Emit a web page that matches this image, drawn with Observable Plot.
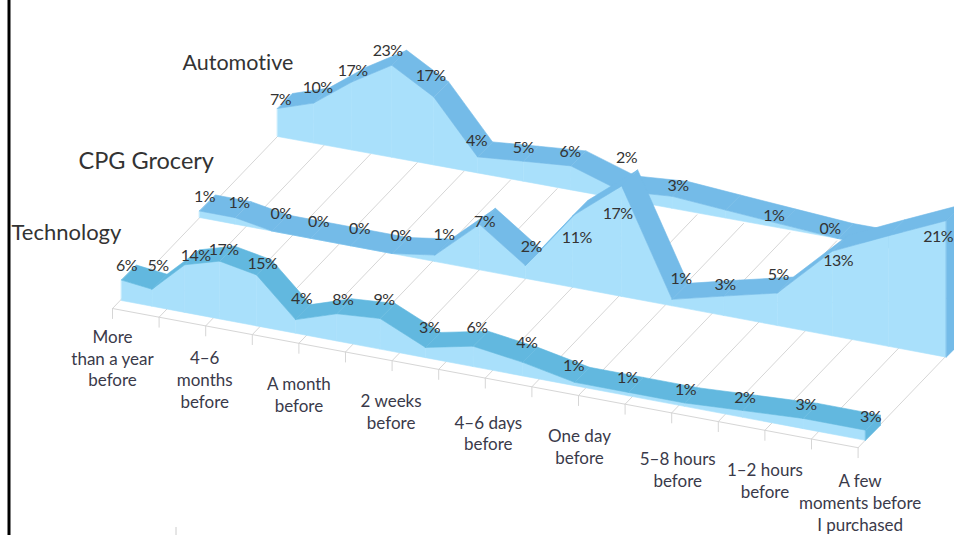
<!DOCTYPE html>
<html>
<head>
<meta charset="utf-8">
<script src="https://cdn.jsdelivr.net/npm/d3@7"></script>
<script src="https://cdn.jsdelivr.net/npm/@observablehq/plot@0.6"></script>
<style>
  html, body { margin: 0; padding: 0; background: #fff; }
  svg { display: block; }
  svg text { font-variant-ligatures: none; }
  svg .pct text { letter-spacing: -0.5px; }
</style>
</head>
<body>
<div id="chart"></div>
<script>
// Share of purchasers by how long before buying they started researching.
const categories = ["More\nthan a year\nbefore", "4–6\nmonths\nbefore", "A month\nbefore", "2 weeks\nbefore",
  "4–6 days\nbefore", "One day\nbefore", "5–8 hours\nbefore", "1–2 hours\nbefore", "A few\nmoments before\nI purchased"];
const automotive = [7, 10, 17, 23, 17, 4, 5, 6, 2, 3, 2, 1, 0, 0];
const grocery = [1, 1, 0, 0, 0, 0, 1, 7, 2, 11, 17, 1, 3, 5, 13, 17, 21];
const technology = [6, 5, 14, 17, 15, 4, 8, 9, 3, 6, 4, 1, 1, 1, 2, 3, 3];

// Hand placement of the percentage labels, relative to each ribbon's front edge.
const automotiveNudge = [[-1, 6], [0, 0], [-3, 4], [-8, 1], [-7, -6], [-5, -1], [-4, 2], [-5, 1], [2, -18], [2, 5], [0, 0], [-11, 7], [-12, 5], [0, 0]];
const groceryNudge = [[1, 1], [0, 0], [5, -2], [4, -1], [5, -2], [5, -3], [5, -5], [1, 13], [2, -4], [7, -1], [-1, 5], [5, -5], [-3, 4], [-3, -3], [9, -13], [0, 0], [-5, -7]];
const technologyNudge = [[1, 1], [2, -8], [7, 6], [0, 4], [2, 4], [2, -6], [2, 1], [0, -4], [0, -5], [0, -3], [0, -4], [-5, -1], [-5, 0], [-3, 2], [-2, 2], [-1, 1], [1, 2]];

// Oblique projection settings: each ribbon sits on its own row of the floor.
const rows = [
  {name: "Automotive", values: automotive, nudge: automotiveNudge, x0: 277, y0: 136, a: 35.2, b: 0.96, slope: 0.182, k: 4.0, dx: 15, dy: -15,
   band: "#74bbe8", hidden: [10, 13], below: [], title: [182, 63], titleSize: 21.5},
  {name: "CPG Grocery", values: grocery, nudge: groceryNudge, x0: 199, y0: 217, a: 34.8, b: 0.742, slope: 0.187, k: 6.5, dx: 16, dy: -16,
   band: "#74bbe8", hidden: [15], below: [9, 10, 14, 16], title: [78, 161], titleSize: 23.5},
  {name: "Technology", values: technology, nudge: technologyNudge, x0: 121, y0: 300, a: 29.5, b: 1.0625, slope: 0.188, k: 3.4, dx: 15, dy: -15,
   band: "#62b8df", hidden: [], below: [], title: [11, 232], titleSize: 22}
];
const faceColor = "#a9e0fb";

// Floor grid: one depth line per time slot, front row ticks every slot.
const slots = d3.range(17);
const floorFront = i => [112 + 46.6 * i, 308 + 8.7 * i];
const floorBack = i => [277 + 46.6 * i, 136 + 8.7 * i];
const gridRows = slots.flatMap(i => [
  {x: floorFront(i)[0], y: floorFront(i)[1], z: i},
  {x: floorBack(i)[0], y: floorBack(i)[1], z: i}
]);
const frontRows = slots.map(i => ({x: floorFront(i)[0], y: floorFront(i)[1]}));
const tickRows = slots.flatMap(i => [
  {x: floorFront(i)[0], y: floorFront(i)[1], z: i},
  {x: floorFront(i)[0], y: floorFront(i)[1] + 10, z: i}
]);

// Distance below the tick and sideways shift of each category label.
const categoryDrop = [19, 23, 31, 31, 35, 31, 37, 30, 24];
const categoryShift = [0, -1, 0, -1, 3, 1, 6, 0, 2];
const categoryRows = categories.map((label, j) => ({
  label,
  x: floorFront(j * 2)[0] + categoryShift[j],
  y: floorFront(j * 2)[1] + categoryDrop[j],
}));

function project(row, i, v) {
  const x = row.x0 + row.a * i + row.b * i * i;
  const base = row.y0 + row.slope * (x - row.x0);
  return {x, base, top: base - v * row.k};
}

function ribbonMarks(row) {
  const pts = row.values.map((v, i) => project(row, i, v));
  const face = [];
  const band = [];
  pts.slice(1).forEach((p, n) => {
    const q = pts[n];
    face.push({x: q.x, y: q.top, z: n}, {x: p.x, y: p.top, z: n}, {x: p.x, y: p.base, z: n}, {x: q.x, y: q.base, z: n});
    band.push({x: q.x, y: q.top, z: n}, {x: p.x, y: p.top, z: n},
              {x: p.x + row.dx, y: p.top + row.dy, z: n}, {x: q.x + row.dx, y: q.top + row.dy, z: n});
  });
  const end = pts[pts.length - 1];
  const side = [
    {x: end.x, y: end.top}, {x: end.x + row.dx, y: end.top + row.dy},
    {x: end.x + row.dx, y: end.base + row.dy}, {x: end.x, y: end.base}
  ];
  const labels = row.values.map((v, i) => {
    const under = row.below.includes(i);
    return {
      text: `${v}%`, i,
      x: pts[i].x + (under ? -3 : 4) + row.nudge[i][0],
      y: pts[i].top + (under ? 23 : -15) + row.nudge[i][1]
    };
  }).filter(d => !row.hidden.includes(d.i));
  const polygon = (rows, fill) => Plot.line(rows, {x: "x", y: "y", z: "z", fill, stroke: fill, strokeWidth: 0.6, curve: "linear-closed"});
  return {
    shapes: [polygon(face, faceColor), polygon(band, row.band), polygon(side.map(d => ({...d, z: 0})), row.band)],
    labels: Plot.text(labels, {x: "x", y: "y", text: "text", fontSize: 16, fill: "#333", textAnchor: "middle", className: "pct"})
  };
}

const ribbons = rows.map(ribbonMarks);

const chart = Plot.plot({
  width: 954,
  height: 535,
  margin: 0,
  style: {background: "#fff", fontFamily: "Lato, sans-serif"},
  x: {domain: [0, 954], range: [0, 954], axis: null},
  y: {domain: [0, 535], range: [0, 535], axis: null},
  marks: [
    Plot.ruleX([8.5], {y1: 0, y2: 535, stroke: "#000", strokeWidth: 3}),
    Plot.ruleX([175.5], {y1: 527, y2: 535, stroke: "#ccc"}),
    Plot.line(gridRows, {x: "x", y: "y", z: "z", stroke: "#d6d6d6", strokeWidth: 1}),
    Plot.line(frontRows, {x: "x", y: "y", stroke: "#d6d6d6", strokeWidth: 1}),
    Plot.line(tickRows, {x: "x", y: "y", z: "z", stroke: "#d6d6d6", strokeWidth: 1}),
    ...ribbons.flatMap(r => r.shapes),
    ...ribbons.map(r => r.labels),
    ...rows.map(r => Plot.text([r], {x: d => d.title[0], y: d => d.title[1], text: "name", textAnchor: "start", fontSize: r.titleSize, fill: "#333"})),
    Plot.text(categoryRows, {x: "x", y: "y", text: "label", textAnchor: "middle", lineAnchor: "top", lineHeight: 1.28, fontSize: 17, fill: "#3a3a4a"})
  ]
});
document.getElementById("chart").appendChild(chart);
</script>
</body>
</html>
